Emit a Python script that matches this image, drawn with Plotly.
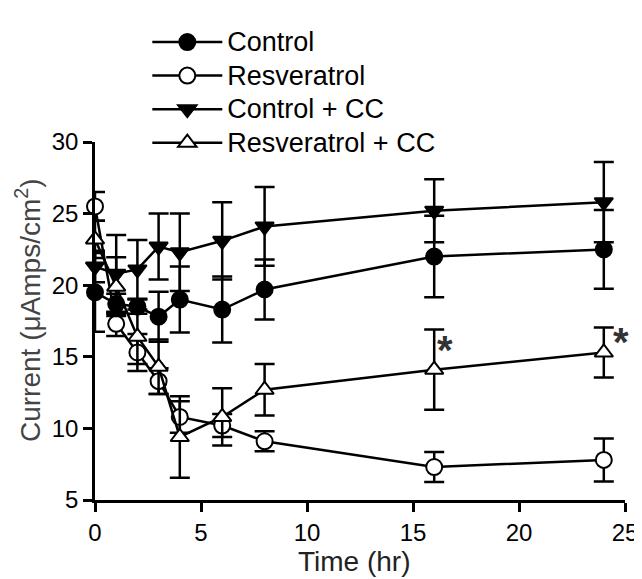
import plotly.graph_objects as go

# time points (hr)
time_hr = [0, 1, 2, 3, 4, 6, 8, 16, 24]

# mean current (uAmps/cm2) and error
control = [19.5, 18.7, 18.5, 17.8, 19.0, 18.3, 19.7, 22.0, 22.5]
control_err = [2.75, 0.7, 0.5, 1.75, 2.3, 2.3, 2.1, 2.85, 2.75]

resveratrol = [25.5, 17.3, 15.3, 13.3, 10.8, 10.2, 9.1, 7.3, 7.8]
resveratrol_err = [1.0, 0.85, 1.3, 0.9, 1.1, 0.8, 0.7, 1.05, 1.5]

control_cc = [21.3, 20.8, 21.1, 22.7, 22.3, 23.1, 24.1, 25.2, 25.8]
control_cc_err = [1.1, 2.7, 2.05, 2.3, 2.7, 2.7, 2.75, 2.2, 2.8]

resveratrol_cc = [23.2, 19.9, 16.4, 14.3, 9.4, 10.8, 12.7, 14.1, 15.3]
resveratrol_cc_err = [1.3, 2.05, 1.9, 1.9, 2.85, 2.0, 1.8, 2.8, 1.75]

# significance markers (x, y)
star_x = [16.5, 24.8]
star_y = [15.5, 16.0]

series = [
    ("Control", control, control_err, "circle", "black"),
    ("Resveratrol", resveratrol, resveratrol_err, "circle", "white"),
    ("Control + CC", control_cc, control_cc_err, "triangle-down", "black"),
    ("Resveratrol + CC", resveratrol_cc, resveratrol_cc_err, "triangle-up", "white"),
]

fig = go.Figure()
for name, y, err, sym, fill in series:
    fig.add_trace(go.Scatter(
        x=time_hr, y=y, mode="lines+markers",
        # legend font size sets row spacing; span sets the drawn size
        name='<span style="font-size:27px">%s</span>' % name,
        line=dict(color="black", width=2.5),
        marker=dict(symbol=sym, size=16, color=fill,
                    line=dict(color="black", width=2)),
        error_y=dict(type="data", array=err, color="black",
                     thickness=2.5, width=10),
        cliponaxis=False,
    ))

for sx, sy in zip(star_x, star_y):
    fig.add_annotation(x=sx, y=sy, text="<b>*</b>", showarrow=False,
                       font=dict(size=40, color="#333333"))

# axis titles
fig.add_annotation(x=0.49, y=-0.172, xref="paper", yref="paper",
                   text="Time (hr)", showarrow=False, yanchor="middle",
                   font=dict(size=28, color="#222222"))
fig.add_annotation(x=-0.125, y=0.53, xref="paper", yref="paper",
                   text="Current (μAmps/cm<sup>2</sup>)", textangle=-90,
                   showarrow=False, xanchor="center", yanchor="middle",
                   font=dict(size=28, color="#444444"))

axis_common = dict(
    showline=True, linecolor="black", linewidth=2.5,
    ticks="outside", ticklen=9, tickwidth=2.5, tickcolor="black",
    showgrid=False, zeroline=False,
    tickfont=dict(size=24, color="black"),
)

fig.update_layout(
    width=642, height=579,
    margin=dict(l=87, r=18, t=118, b=87),
    plot_bgcolor="white", paper_bgcolor="white",
    font=dict(family="Liberation Sans, Arial, sans-serif", color="black"),
    xaxis=dict(range=[0, 25], tickvals=[0, 5, 10, 15, 20, 25], **axis_common),
    yaxis=dict(range=[5, 30], tickvals=[5, 10, 15, 20, 25, 30], **axis_common),
    legend=dict(x=0.0987, y=1.34, xanchor="left", yanchor="top",
                font=dict(size=23.5), itemwidth=70,
                bgcolor="rgba(0,0,0,0)", tracegroupgap=0),
)

fig.write_html("out.html")
